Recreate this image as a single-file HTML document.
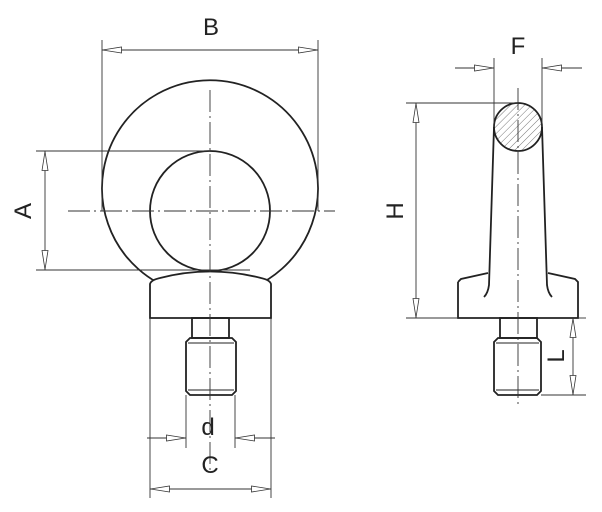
<!DOCTYPE html>
<html><head><style>html,body{margin:0;padding:0;background:#fff;}svg{display:block}</style></head>
<body>
<svg width="602" height="512" viewBox="0 0 602 512" xmlns="http://www.w3.org/2000/svg">
<defs>
<pattern id="h" width="5" height="5" patternUnits="userSpaceOnUse" patternTransform="rotate(45)">
<line x1="0" y1="0" x2="0" y2="5" stroke="#555" stroke-width="0.8"/></pattern>
<marker id="a" viewBox="0 0 20 8" markerWidth="20" markerHeight="8" refX="20" refY="4" orient="auto" markerUnits="userSpaceOnUse">
<path d="M0.5,1 L19.5,4 L0.5,7 Z" fill="#fff" stroke="#333" stroke-width="0.8"/></marker>
</defs>
<g fill="none" stroke="#222" stroke-width="1.8">
<path d="M180,292 A108,108 0 1 1 240,292"/>
<circle cx="210" cy="211" r="60"/>
<path d="M150,284 Q151,280 160,278 Q210,265 261,278 Q270,280 271,284 L271,318 L150,318 Z" fill="#fff"/>
<rect x="192" y="318" width="37" height="20"/>
<path d="M190,338 L232,338 L236,342 L236,391 L232,395 L190,395 L186,391 L186,342 Z"/>
<line x1="188" y1="343" x2="234" y2="343" stroke-width="1"/>
<line x1="188" y1="390" x2="234" y2="390" stroke-width="1"/>
<path d="M494,127 L489,285 Q488,293 484,297" />
<path d="M542,127 L547,285 Q548,293 552,297" />
<path d="M458,282 L461,279 L488,273 M548,273 L575,279 L578,282 L578,318 L458,318 L458,282"/>
<circle cx="518" cy="127" r="24" fill="url(#h)"/>
<rect x="500" y="318" width="37" height="20"/>
<path d="M498,338 L537,338 L541,342 L541,391 L537,395 L498,395 L494,391 L494,342 Z"/>
<line x1="496" y1="343" x2="539" y2="343" stroke-width="1"/>
<line x1="496" y1="390" x2="539" y2="390" stroke-width="1"/>
</g>
<g stroke="#333" stroke-width="0.9" fill="none">
<line x1="210" y1="90" x2="210" y2="470" stroke-dasharray="22,4,2,4"/>
<line x1="68" y1="211" x2="335" y2="211" stroke-dasharray="22,4,2,4"/>
<line x1="518" y1="88" x2="518" y2="405" stroke-dasharray="22,4,2,4"/>
<line x1="102" y1="40" x2="102" y2="211"/>
<line x1="318" y1="40" x2="318" y2="211"/>
<line x1="210" y1="50" x2="102" y2="50" marker-end="url(#a)"/>
<line x1="210" y1="50" x2="318" y2="50" marker-end="url(#a)"/>
<line x1="36" y1="151" x2="210" y2="151"/>
<line x1="36" y1="270" x2="250" y2="270"/>
<line x1="45" y1="211" x2="45" y2="151" marker-end="url(#a)"/>
<line x1="45" y1="211" x2="45" y2="270" marker-end="url(#a)"/>
<line x1="186" y1="395" x2="186" y2="448"/>
<line x1="235" y1="395" x2="235" y2="448"/>
<line x1="147" y1="438" x2="186" y2="438" marker-end="url(#a)"/>
<line x1="275" y1="438" x2="235" y2="438" marker-end="url(#a)"/>
<line x1="150" y1="318" x2="150" y2="498"/>
<line x1="271" y1="318" x2="271" y2="498"/>
<line x1="210" y1="489" x2="150" y2="489" marker-end="url(#a)"/>
<line x1="210" y1="489" x2="271" y2="489" marker-end="url(#a)"/>
<line x1="494" y1="58" x2="494" y2="127"/>
<line x1="542" y1="58" x2="542" y2="127"/>
<line x1="455" y1="68" x2="494" y2="68" marker-end="url(#a)"/>
<line x1="582" y1="68" x2="542" y2="68" marker-end="url(#a)"/>
<line x1="406" y1="103" x2="518" y2="103"/>
<line x1="406" y1="318" x2="458" y2="318"/>
<line x1="416" y1="210" x2="416" y2="103" marker-end="url(#a)"/>
<line x1="416" y1="210" x2="416" y2="318" marker-end="url(#a)"/>
<line x1="578" y1="318" x2="586" y2="318"/>
<line x1="541" y1="395" x2="586" y2="395"/>
<line x1="573" y1="356" x2="573" y2="318" marker-end="url(#a)"/>
<line x1="573" y1="356" x2="573" y2="395" marker-end="url(#a)"/>
</g>
<g font-family="Liberation Sans, sans-serif" font-size="24" fill="#222" text-anchor="middle">
<text x="211" y="35">B</text>
<text x="518" y="54">F</text>
<text x="208" y="435">d</text>
<text x="210" y="473">C</text>
<text transform="translate(31,211) rotate(-90)">A</text>
<text transform="translate(403,211) rotate(-90)">H</text>
<text transform="translate(564,356) rotate(-90)">L</text>
</g>
</svg>
</body></html>
